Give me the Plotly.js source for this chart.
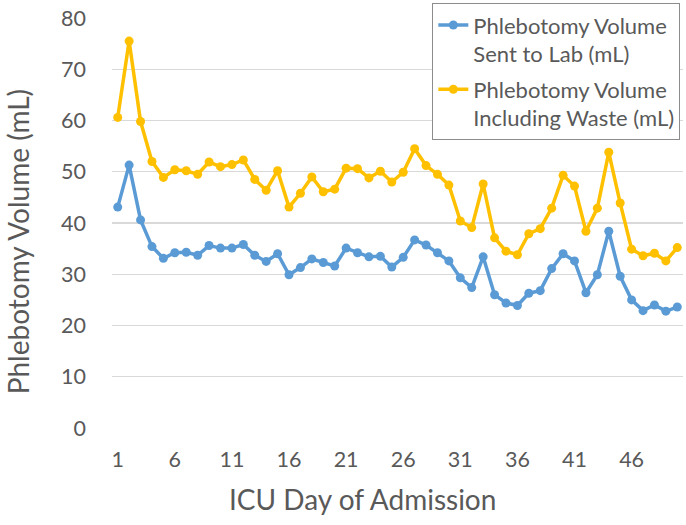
<!DOCTYPE html>
<html>
<head>
<meta charset="utf-8">
<script src="https://cdn.plot.ly/plotly-3.0.1.min.js"></script>
<style>html,body{margin:0;padding:0;background:#fff;}#chart{width:686px;height:525px;}</style>
</head>
<body>
<div id="chart"></div>
<script>
const days = [1,2,3,4,5,6,7,8,9,10,11,12,13,14,15,16,17,18,19,20,21,22,23,24,25,26,27,28,29,30,31,32,33,34,35,36,37,38,39,40,41,42,43,44,45,46,47,48,49,50];
const sentToLab = [43.1,51.3,40.6,35.4,33.1,34.2,34.3,33.7,35.6,35.1,35.1,35.8,33.7,32.5,34.0,29.9,31.3,33.0,32.3,31.6,35.1,34.2,33.4,33.5,31.4,33.3,36.7,35.7,34.2,32.6,29.3,27.4,33.4,26.0,24.4,23.9,26.3,26.8,31.1,34.0,32.6,26.4,29.9,38.4,29.6,25.0,22.9,24.0,22.8,23.6];
const inclWaste = [60.6,75.5,59.8,52.0,48.9,50.4,50.2,49.5,51.9,51.0,51.4,52.3,48.5,46.4,50.2,43.1,45.8,49.0,46.1,46.6,50.7,50.6,48.8,50.1,48.0,49.9,54.5,51.2,49.5,47.4,40.4,39.1,47.6,37.1,34.5,33.8,37.9,38.9,42.9,49.3,47.2,38.4,42.9,53.8,43.9,34.9,33.6,34.1,32.6,35.2];
const xTicks = [1,6,11,16,21,26,31,36,41,46];
const yTicks = [0,10,20,30,40,50,60,70,80];
const seriesNames = ['Phlebotomy Volume<br>Sent to Lab (mL)', 'Phlebotomy Volume<br>Including Waste (mL)'];
const xTitle = 'ICU Day of Admission';
const yTitle = 'Phlebotomy Volume (mL)';

const FONT = 'Lato, "Open Sans", sans-serif';
const TXT = '#595959';

const traces = [
  {x: days, y: sentToLab, name: seriesNames[0], type: 'scatter', mode: 'lines+markers',
   line: {color: '#5B9BD5', width: 3.5}, marker: {color: '#5B9BD5', size: 9}, legendgroup: 'a'},
  {x: days, y: inclWaste, name: seriesNames[1], type: 'scatter', mode: 'lines+markers',
   line: {color: '#FFC000', width: 3.5}, marker: {color: '#FFC000', size: 9}, legendgroup: 'b'}
];

const layout = {
  width: 686, height: 525,
  margin: {l: 111.6, r: 3, t: 15.7, b: 96.5, pad: 0},
  paper_bgcolor: '#ffffff', plot_bgcolor: '#ffffff',
  font: {family: FONT, color: TXT},
  xaxis: {
    range: [0.5, 50.5], tickmode: 'array', tickvals: xTicks, ticktext: xTicks.map(String),
    showgrid: false, zeroline: false, showline: false, ticks: '',
    tickfont: {size: 21.5, color: TXT}, ticklabelstandoff: 16
  },
  yaxis: {
    range: [0, 80], tickmode: 'array', tickvals: yTicks,
    showgrid: true, gridcolor: '#d9d9d9', gridwidth: 1.3, zeroline: false, showline: false, ticks: '',
    tickfont: {size: 21.5, color: TXT}, ticklabelstandoff: 25
  },
  annotations: [
    {text: xTitle, xref: 'paper', yref: 'paper', x: (362 - 111.6) / 571.4, y: -(500 - 428.5) / 412.8,
     xanchor: 'center', yanchor: 'middle', showarrow: false, font: {size: 28, color: TXT, family: FONT}},
    {text: yTitle, xref: 'paper', yref: 'paper', x: -(111.6 - 17) / 571.4, y: (428.5 - 241) / 412.8,
     xanchor: 'center', yanchor: 'middle', textangle: -90, showarrow: false, font: {size: 28, color: TXT, family: FONT}}
  ],
  showlegend: true,
  legend: {
    x: 0.561, xanchor: 'left', y: 1.036, yanchor: 'top',
    bgcolor: '#ffffff', bordercolor: '#8c8c8c', borderwidth: 1,
    font: {size: 22, color: TXT, family: FONT}, valign: 'top',
    tracegroupgap: 4, itemwidth: 30
  }
};

Plotly.newPlot('chart', traces, layout, {displayModeBar: false, staticPlot: true});
</script>
</body>
</html>
